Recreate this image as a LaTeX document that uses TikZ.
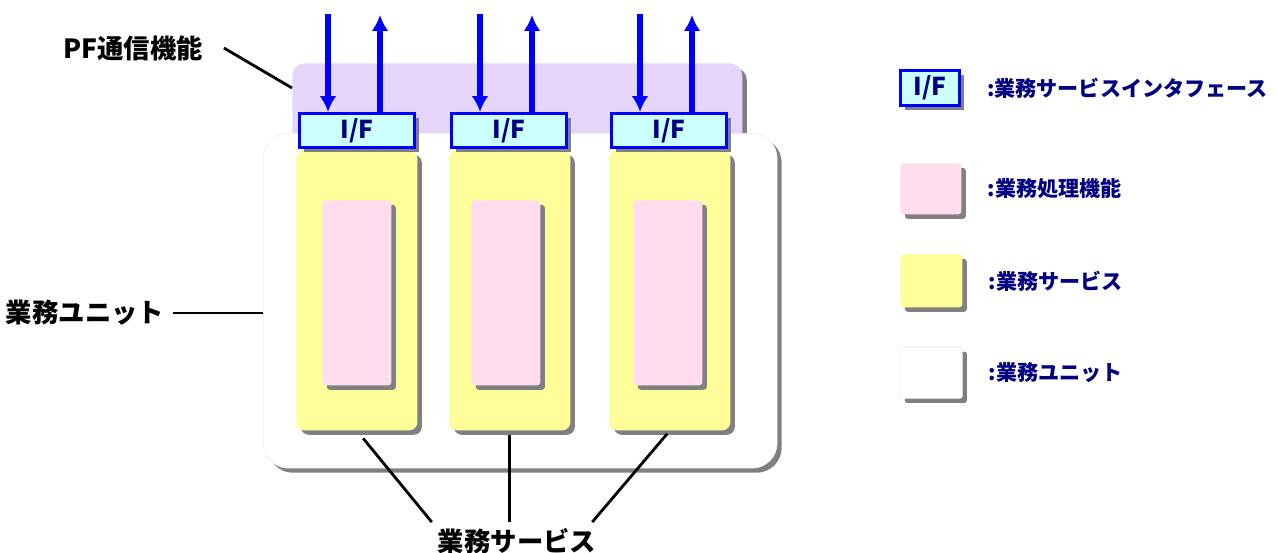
\documentclass[tikz,border=0pt]{standalone}
\usepackage{fontspec}
\setmainfont{Noto Sans CJK JP}
\usetikzlibrary{arrows.meta,shadows,positioning}

\definecolor{pfcol}{RGB}{230,213,250}
\definecolor{ifcol}{RGB}{204,255,255}
\definecolor{svccol}{RGB}{255,255,153}
\definecolor{proccol}{RGB}{255,221,238}
\definecolor{ifblue}{RGB}{0,0,255}
\definecolor{navy}{RGB}{0,0,128}
\definecolor{shgray}{RGB}{128,128,128}

\begin{document}
\begin{tikzpicture}[x=0.02cm,y=-0.02cm,
    boxshadow/.style={general shadow={fill=shgray,shadow xshift=0.09cm,shadow yshift=-0.09cm}},
    pfbox/.style={fill=pfcol,rounded corners=0.24cm,boxshadow,anchor=north west,inner sep=0},
    unitbox/.style={fill=white,draw=black!7,line width=0.3pt,rounded corners=0.5cm,boxshadow,anchor=north west,inner sep=0},
    svcbox/.style={fill=svccol,rounded corners=0.16cm,boxshadow,anchor=north west,inner sep=0,minimum width=2.42cm,minimum height=5.6cm},
    procbox/.style={fill=proccol,rounded corners=0.06cm,boxshadow,anchor=north west,inner sep=0,minimum width=1.38cm,minimum height=3.7cm},
    ifbox/.style={fill=ifcol,draw=ifblue,line width=1.7pt,boxshadow,anchor=north west,inner sep=0,minimum width=2.3cm,minimum height=0.68cm,text=navy,font=\bfseries\fontsize{14}{14}\selectfont},
    io/.style={ifblue,line width=3pt,-{Latex[length=9pt,width=9.5pt]}},
    leader/.style={line width=1.6pt},
    lbl/.style={font=\bfseries\fontsize{15}{15}\selectfont},
    lgtext/.style={text=navy,font=\bfseries\fontsize{12}{12}\selectfont,anchor=west}]
    \useasboundingbox (0,0) rectangle (1277,553);

    % PF communication layer and business unit
    \node[pfbox,minimum width=9cm,minimum height=2.14cm] (pf) at (292,63) {};
    \node[unitbox,minimum width=10.28cm,minimum height=6.7cm] (unit) at (263,133) {};

    % Business services
    \node[svcbox] (svc1) at (296,150) {};
    \node[svcbox] (svc2) at (449,150) {};
    \node[svcbox] (svc3) at (609,150) {};
    \node[procbox] (proc1) at (322,200) {};
    \node[procbox] (proc2) at (471,200) {};
    \node[procbox] (proc3) at (633,200) {};

    % Interfaces
    \node[ifbox] (if1) at (298,112) {I/F};
    \node[ifbox] (if2) at (450,112) {I/F};
    \node[ifbox] (if3) at (610,112) {I/F};

    % Requests in and out
    \coordinate (in1) at (328,14);
    \coordinate (out1) at (380,15);
    \coordinate (in2) at (480,14);
    \coordinate (out2) at (532,15);
    \coordinate (in3) at (640,14);
    \coordinate (out3) at (692,15);
    \draw[io] (in1) -- (in1 |- if1.north);
    \draw[io] (out1 |- if1.north) -- (out1);
    \draw[io] (in2) -- (in2 |- if2.north);
    \draw[io] (out2 |- if2.north) -- (out2);
    \draw[io] (in3) -- (in3 |- if3.north);
    \draw[io] (out3 |- if3.north) -- (out3);

    % Labels
    \node[lbl] (pflbl) at (133,48) {PF通信機能};
    \draw[leader] ([xshift=0.3cm]pflbl.east) -- ([yshift=-0.5cm]pf.north west);
    \node[lbl] (unitlbl) at (85,313) {業務ユニット};
    \draw[leader] ([xshift=0.05cm]unitlbl.east) -- (unitlbl.east -| unit.west);
    \node[lbl] (svclbl) at (517,541) {業務サービス};
    \draw[leader,shorten <=0.2cm] (svc1.south) -- (svclbl.north west);
    \draw[leader,shorten <=0.08cm] (svc2.south) -- (svc2.south |- svclbl.north);
    \draw[leader,shorten <=0.08cm] (svc3.south) -- ([xshift=-0.2cm]svclbl.north east);

    % Legend
    \node[ifbox,minimum width=1.18cm,minimum height=0.7cm] (lgif) at (899,69) {I/F};
    \node[procbox,minimum width=1.22cm,minimum height=1.02cm] (lgproc) at (900,163) {};
    \node[svcbox,minimum width=1.24cm,minimum height=1.06cm,rounded corners=0.06cm] (lgsvc) at (900,254) {};
    \node[unitbox,minimum width=1.24cm,minimum height=1.02cm,rounded corners=0.04cm] (lgunit) at (900,347) {};
    \node[lgtext,right=0.4cm of lgif] {:業務サービスインタフェース};
    \node[lgtext,right=0.4cm of lgproc] {:業務処理機能};
    \node[lgtext,right=0.4cm of lgsvc] {:業務サービス};
    \node[lgtext,right=0.4cm of lgunit] {:業務ユニット};
\end{tikzpicture}
\end{document}
